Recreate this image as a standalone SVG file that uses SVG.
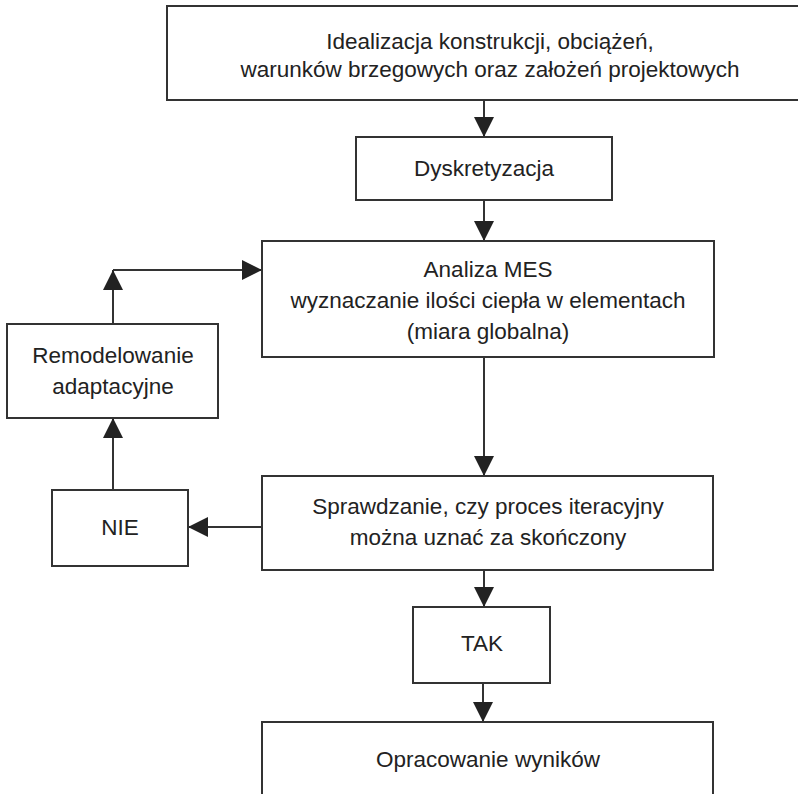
<svg xmlns="http://www.w3.org/2000/svg" width="798" height="794" viewBox="0 0 798 794">
<defs>
<style>
.box{fill:#fff;stroke:#333;stroke-width:2}
.t{font-family:"Liberation Sans",Arial,sans-serif;font-size:22.5px;fill:#222;text-anchor:middle}
.c{fill:none;stroke:#333;stroke-width:2}
</style>
<marker id="ah" markerUnits="userSpaceOnUse" markerWidth="20" markerHeight="20" refX="20" refY="10" orient="auto">
<path d="M0,0 L20,10 L0,20 Z" fill="#222"/>
</marker>
</defs>
<rect width="798" height="794" fill="#fff"/>
<g id="connectors">
<path class="c" d="M484,100 V137" marker-end="url(#ah)"/>
<path class="c" d="M484,200 V241" marker-end="url(#ah)"/>
<path class="c" d="M484,357 V476" marker-end="url(#ah)"/>
<path class="c" d="M484,570 V607" marker-end="url(#ah)"/>
<path class="c" d="M483,683 V722" marker-end="url(#ah)"/>
<path class="c" d="M262,527 H188" marker-end="url(#ah)"/>
<path class="c" d="M113,490 V418" marker-end="url(#ah)"/>
<path class="c" d="M113,324 V270" marker-end="url(#ah)"/>
<path class="c" d="M113,270 H262" marker-end="url(#ah)"/>
</g>
<g id="idealizacja">
<rect class="box" x="167" y="6" width="660" height="94"/>
<text class="t" x="490" y="49">Idealizacja konstrukcji, obciążeń,</text>
<text class="t" x="490" y="77">warunków brzegowych oraz założeń projektowych</text>
</g>
<g id="dyskretyzacja">
<rect class="box" x="356" y="137" width="256" height="63"/>
<text class="t" x="484" y="176">Dyskretyzacja</text>
</g>
<g id="analiza">
<rect class="box" x="262" y="241" width="452" height="116"/>
<text class="t" x="488" y="277">Analiza MES</text>
<text class="t" x="488" y="308">wyznaczanie ilości ciepła w elementach</text>
<text class="t" x="488" y="339">(miara globalna)</text>
</g>
<g id="remodelowanie">
<rect class="box" x="7" y="324" width="211" height="94"/>
<text class="t" x="113" y="363">Remodelowanie</text>
<text class="t" x="113" y="394">adaptacyjne</text>
</g>
<g id="sprawdzanie">
<rect class="box" x="262" y="476" width="451" height="94"/>
<text class="t" x="488" y="514">Sprawdzanie, czy proces iteracyjny</text>
<text class="t" x="488" y="545">można uznać za skończony</text>
</g>
<g id="nie">
<rect class="box" x="52" y="490" width="136" height="76"/>
<text class="t" x="120" y="535">NIE</text>
</g>
<g id="tak">
<rect class="box" x="413" y="607" width="137" height="76"/>
<text class="t" x="482" y="651">TAK</text>
</g>
<g id="opracowanie">
<rect class="box" x="262" y="722" width="451" height="100"/>
<text class="t" x="488" y="767">Opracowanie wyników</text>
</g>
</svg>
